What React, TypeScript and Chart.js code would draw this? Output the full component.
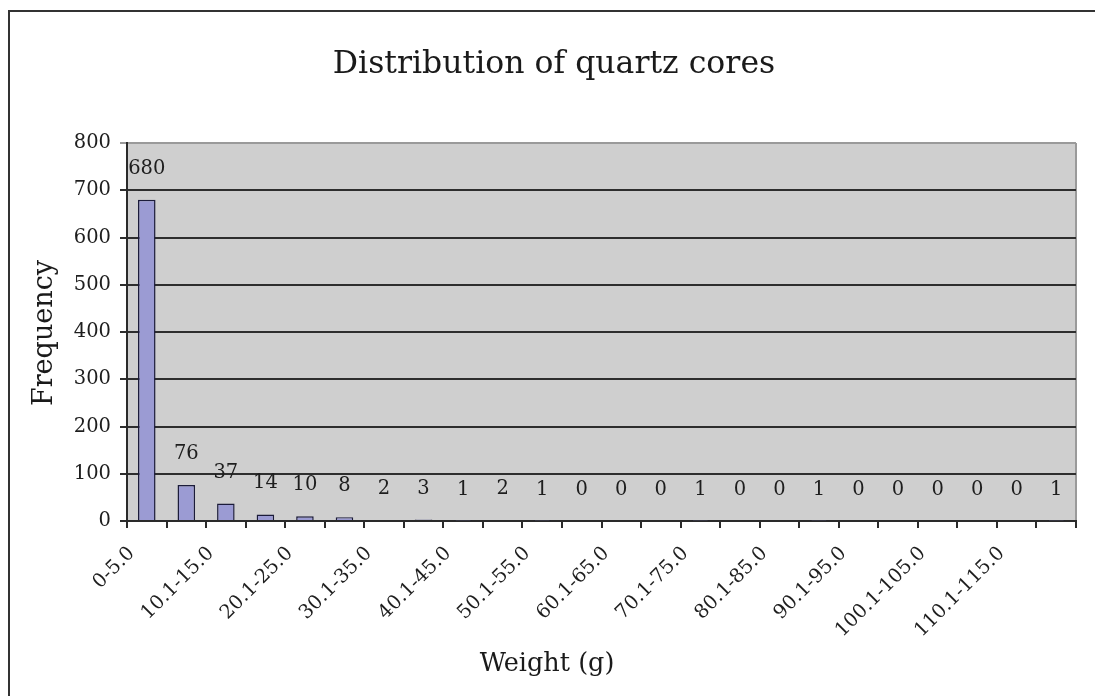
import React, { useEffect, useRef } from 'react';
import { Chart, registerables } from 'chart.js';

Chart.register(...registerables);

const categories = [
  '0-5.0', '5.1-10.0', '10.1-15.0', '15.1-20.0', '20.1-25.0', '25.1-30.0',
  '30.1-35.0', '35.1-40.0', '40.1-45.0', '45.1-50.0', '50.1-55.0', '55.1-60.0',
  '60.1-65.0', '65.1-70.0', '70.1-75.0', '75.1-80.0', '80.1-85.0', '85.1-90.0',
  '90.1-95.0', '95.1-100.0', '100.1-105.0', '105.1-110.0', '110.1-115.0', '115.1-120.0',
];
const frequencies = [680, 76, 37, 14, 10, 8, 2, 3, 1, 2, 1, 0, 0, 0, 1, 0, 0, 1, 0, 0, 0, 0, 0, 1];
const yMin = 0;
const yMax = 800;
const yStep = 100;
const chartTitle = 'Distribution of quartz cores';
const xAxisTitle = 'Weight (g)';
const yAxisTitle = 'Frequency';

const FONT = '"DejaVu Serif", "Liberation Serif", serif';

const framePlugin = {
  id: 'frameAndBackground',
  beforeDraw(chart: any) {
    const { ctx, chartArea } = chart;
    ctx.save();
    ctx.strokeStyle = '#333333';
    ctx.lineWidth = 2;
    ctx.beginPath();
    ctx.moveTo(9, 696);
    ctx.lineTo(9, 11);
    ctx.lineTo(1095, 11);
    ctx.stroke();
    ctx.fillStyle = '#cfcfcf';
    ctx.fillRect(chartArea.left, chartArea.top, chartArea.right - chartArea.left, chartArea.bottom - chartArea.top);
    ctx.strokeStyle = '#9a9a9a';
    ctx.lineWidth = 2;
    ctx.beginPath();
    ctx.moveTo(chartArea.right, chartArea.top);
    ctx.lineTo(chartArea.right, chartArea.bottom);
    ctx.stroke();
    ctx.restore();
  },
};

const labelsPlugin = {
  id: 'valueLabelsAndTitles',
  afterDatasetsDraw(chart: any) {
    const { ctx } = chart;
    const meta = chart.getDatasetMeta(0);
    ctx.save();
    ctx.fillStyle = '#1e1e1e';
    ctx.font = `19.5px ${FONT}`;
    ctx.textAlign = 'center';
    ctx.textBaseline = 'middle';
    meta.data.forEach((bar: any, i: number) => {
      ctx.fillText(String(frequencies[i]), bar.x, bar.y - 31);
    });
    ctx.restore();
  },
  afterDraw(chart: any) {
    const { ctx } = chart;
    ctx.save();
    ctx.fillStyle = '#1a1a1a';
    ctx.textAlign = 'center';
    ctx.textBaseline = 'middle';
    ctx.font = `31.5px ${FONT}`;
    ctx.fillText(chartTitle, 554, 65);
    ctx.font = `25.5px ${FONT}`;
    ctx.fillText(xAxisTitle, 547, 664);
    ctx.font = `27px ${FONT}`;
    ctx.translate(45, 333);
    ctx.rotate(-Math.PI / 2);
    ctx.fillText(yAxisTitle, 0, 0);
    ctx.restore();
  },
};

export default function App() {
  const canvasRef = useRef<HTMLCanvasElement | null>(null);

  useEffect(() => {
    if (!canvasRef.current) return;
    const chart = new Chart(canvasRef.current, {
      type: 'bar',
      data: {
        labels: categories,
        datasets: [
          {
            label: 'Frequency',
            data: frequencies,
            backgroundColor: '#9b9bd3',
            borderColor: '#1c1c3a',
            borderWidth: 1.5,
            barPercentage: 0.444,
            categoryPercentage: 1,
          },
        ],
      },
      options: {
        animation: false,
        responsive: false,
        maintainAspectRatio: false,
        layout: { padding: { left: 60, top: 143, right: 19, bottom: 0 } },
        plugins: {
          legend: { display: false },
          title: { display: false },
          tooltip: { enabled: false },
        },
        scales: {
          x: {
            offset: true,
            grid: {
              offset: true,
              drawOnChartArea: false,
              drawTicks: true,
              tickLength: 7,
              color: '#2a2a2a',
              lineWidth: 2,
            },
            border: { color: '#2a2a2a', width: 2 },
            ticks: {
              autoSkip: false,
              minRotation: 45,
              maxRotation: 45,
              padding: 14,
              labelOffset: -15,
              color: '#1e1e1e',
              font: { family: FONT, size: 19.5 },
              callback: (_v: any, index: number) => (index % 2 === 0 ? categories[index] : ''),
            },
            afterFit(scale: any) {
              scale.height = 175;
            },
          },
          y: {
            min: yMin,
            max: yMax,
            grid: {
              color: (c: any) => (c.tick && c.tick.value === yMax ? '#9a9a9a' : '#2e2e2e'),
              lineWidth: 2,
              tickLength: 7,
              drawTicks: true,
            },
            border: { color: '#2a2a2a', width: 2 },
            ticks: {
              stepSize: yStep,
              padding: 9,
              color: '#1e1e1e',
              font: { family: FONT, size: 19.5 },
            },
            afterFit(scale: any) {
              scale.width = 67;
            },
          },
        },
      },
      plugins: [framePlugin, labelsPlugin],
    });
    return () => chart.destroy();
  }, []);

  return (
    <canvas
      ref={canvasRef}
      width={1095}
      height={696}
      style={{ position: 'absolute', left: 0, top: 0, width: 1095, height: 696 }}
    />
  );
}
